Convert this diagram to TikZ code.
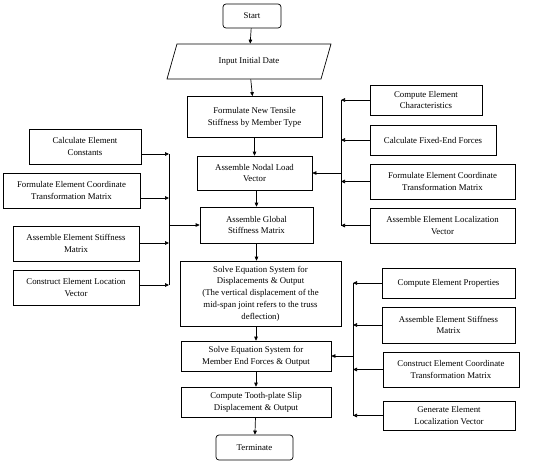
\documentclass[tikz,border=0pt]{standalone}
\usepackage{fontspec}
\setmainfont{Liberation Serif}
\usetikzlibrary{arrows.meta,shapes.geometric}

\tikzset{
  box/.style={draw, line width=0.7pt, align=center, inner sep=1pt,
    font=\fontsize{8.8}{11.8}\selectfont},
  termbox/.style={box, rounded corners=3pt},
  iobox/.style={box, trapezium, trapezium left angle=45,
    trapezium right angle=135, trapezium stretches body},
  arr/.style={-{Triangle[length=4pt,width=3.6pt]}, line width=0.7pt},
  bus/.style={line width=0.7pt}
}

\begin{document}
\begin{tikzpicture}[x=1pt,y=-1pt]

\useasboundingbox (0,0) rectangle (550,464);

% main column
\node[termbox, minimum width=58pt, minimum height=24pt] (start) at (252,16) {Start};
\node[iobox, minimum width=164pt, minimum height=35pt] (input) at (249,61.5) {Input Initial Date};
\node[box, minimum width=135pt, minimum height=41pt] (tensile) at (254.5,117) {Formulate New Tensile\\Stiffness by Member Type};
\node[box, minimum width=115pt, minimum height=34pt] (nodal) at (254.5,173) {Assemble Nodal Load\\Vector};
\node[box, minimum width=113pt, minimum height=36pt] (global) at (256.5,225) {Assemble Global\\Stiffness Matrix};
\node[box, minimum width=161pt, minimum height=65pt] (disp) at (260.5,293.5) {Solve Equation System for\\Displacements \& Output\\(The vertical displacement of the\\mid-span joint refers to the truss\\deflection)};
\node[box, minimum width=150pt, minimum height=30pt] (force) at (256,356) {Solve Equation System for\\Member End Forces \& Output};
\node[box, minimum width=150pt, minimum height=30pt] (slip) at (256,402) {Compute Tooth-plate Slip\\Displacement \& Output};
\node[termbox, minimum width=77pt, minimum height=25pt] (stop) at (254.5,447.5) {Terminate};

% left column
\node[box, minimum width=112pt, minimum height=35pt] (lconst) at (85,146.5) {Calculate Element\\Constants};
\node[box, minimum width=137pt, minimum height=35pt] (ltrans) at (71.5,190.5) {Formulate Element Coordinate\\Transformation Matrix};
\node[box, minimum width=126pt, minimum height=35pt] (lstiff) at (76,243.5) {Assemble Element Stiffness\\Matrix};
\node[box, minimum width=126pt, minimum height=35pt] (lloc) at (76,287.5) {Construct Element Location\\Vector};

% upper right column
\node[box, minimum width=112pt, minimum height=30pt] (rchar) at (426,100) {Compute Element\\Characteristics};
\node[box, minimum width=126pt, minimum height=30pt] (rfixed) at (433,140) {Calculate Fixed-End Forces};
\node[box, minimum width=145pt, minimum height=35pt] (rtrans) at (442.5,181.5) {Formulate Element Coordinate\\Transformation Matrix};
\node[box, minimum width=145pt, minimum height=35pt] (rloc) at (442.5,225.5) {Assemble Element Localization\\Vector};

% lower right column
\node[box, minimum width=133pt, minimum height=30pt] (qprop) at (448.5,283) {Compute Element Properties};
\node[box, minimum width=133pt, minimum height=36pt] (qstiff) at (448.5,325) {Assemble Element Stiffness\\Matrix};
\node[box, minimum width=136pt, minimum height=35pt] (qtrans) at (451,369.5) {Construct Element Coordinate\\Transformation Matrix};
\node[box, minimum width=132pt, minimum height=29pt] (qloc) at (449,415.5) {Generate Element\\Localization Vector};

% bus positions
\coordinate (lbus) at (169,0);
\coordinate (rbus) at (341,0);
\coordinate (qbus) at (353,0);
\coordinate (l1) at (169,154);
\coordinate (l2) at (169,198);
\coordinate (l3) at (169,243);
\coordinate (l4) at (169,285);

% main flow
\draw[arr] (start) -- (input);
\draw[arr] (input) -- (tensile);
\draw[arr] (tensile) -- (nodal);
\draw[arr] (nodal.south -| global) -- (global);
\draw[arr] (global.south) -- (global.south |- disp.north);
\draw[arr] (disp.south -| force) -- (force);
\draw[arr] (force) -- (slip);
\draw[arr] (slip) -- (stop);

% left bus
\foreach \b/\c in {lconst/l1, ltrans/l2, lstiff/l3, lloc/l4}
  \draw[arr] (\b.east |- \c) -- (\c);
\draw[bus] (l1) -- (l4);
\draw[arr] (global.west -| lbus) -- (global.west);

% upper right bus
\foreach \b in {rchar, rfixed, rtrans, rloc}
  \draw[arr] (\b.west) -- (\b.west -| rbus);
\draw[bus] (rchar.west -| rbus) -- (rloc.west -| rbus);
\draw[arr] (nodal.east -| rbus) -- (nodal.east);

% lower right bus
\foreach \b in {qprop, qstiff, qtrans, qloc}
  \draw[arr] (\b.west) -- (\b.west -| qbus);
\draw[bus] (qprop.west -| qbus) -- (qloc.west -| qbus);
\draw[arr] (force.east -| qbus) -- (force.east);

\end{tikzpicture}
\end{document}
